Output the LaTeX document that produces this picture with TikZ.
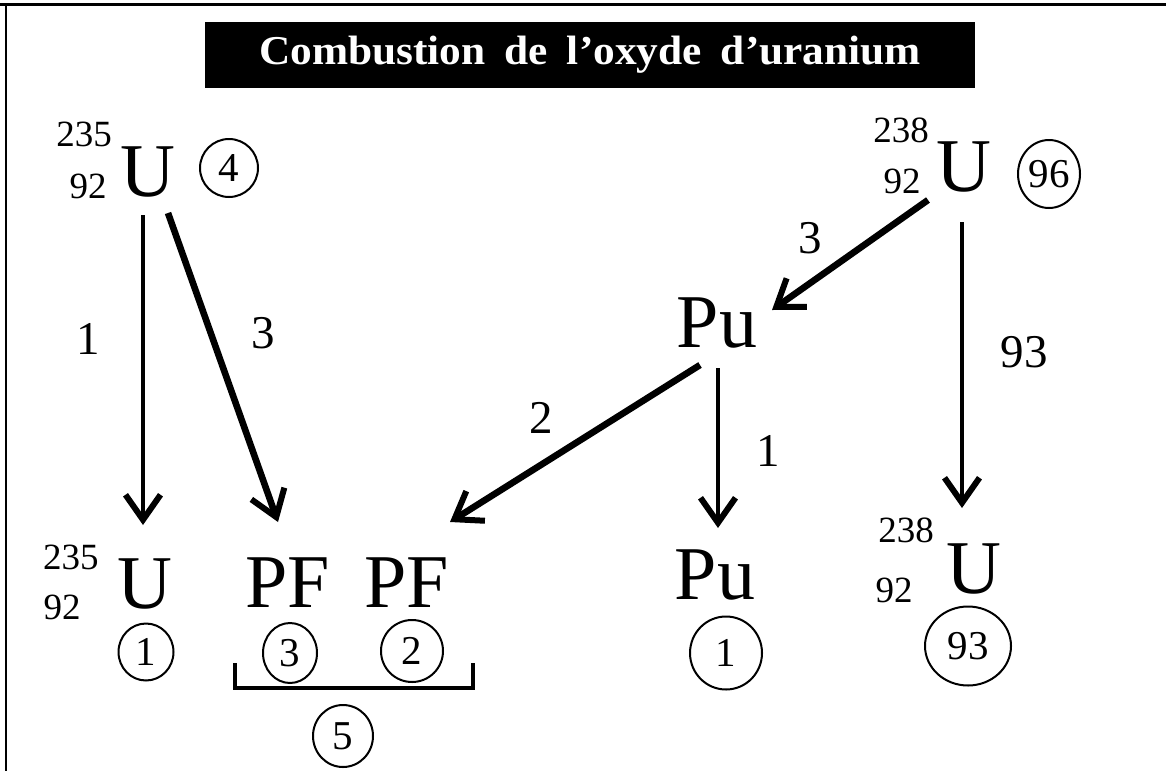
\documentclass[tikz,border=0pt]{standalone}
\usepackage{fontspec}
\setmainfont{Liberation Serif}
\usepackage{graphicx}
\usetikzlibrary{positioning,arrows.meta,shapes.geometric}

\tikzset{
  elem/.style={font=\fontsize{38}{40}\selectfont, inner sep=0pt},
  nucl/.style={font=\fontsize{18.5}{20}\selectfont, inner sep=0pt},
  qty/.style={font=\fontsize{23.5}{25}\selectfont, inner sep=0pt},
  tally/.style={draw, ellipse, line width=1pt, inner sep=0pt, font=\fontsize{20.5}{22}\selectfont},
  flow/.style={-{Straight Barb[length=12.5pt,width=17.5pt,line width=3pt]}, line width=3.3pt},
  thinflow/.style={flow, line width=2.3pt},
}

\begin{document}
\begin{tikzpicture}[x=0.5pt, y=-0.5pt]
    \useasboundingbox (0,0) rectangle (1166,771);

    % Frame
    \draw[line width=1.5pt] (0,4) -- (1166,4);
    \draw[line width=1pt] (6,4) -- (6,771);

    % Title
    \node[fill=black, text=white, minimum width=385pt, minimum height=33pt, inner sep=0pt,
          font=\bfseries\fontsize{20.5}{22}\selectfont] (title) at (590,55)
          {\resizebox{331pt}{\height}{\spaceskip=9pt Combustion de l'oxyde d'uranium}};

    % Uranium 235 (start)
    \node[elem] (Ua) at (148,172) {U};
    \node[nucl] (UaA) at (84,134) {235};
    \node[nucl] (UaZ) at (88,186) {92};
    \node[tally, minimum width=29pt, minimum height=29pt] (na) at (229,168) {4};

    % Uranium 238 (start)
    \node[elem] (Uc) at (964,167) {U};
    \node[nucl] (UcA) at (901,130) {238};
    \node[nucl] (UcZ) at (902,181) {92};
    \node[tally, minimum width=31pt, minimum height=34pt] (nc) at (1049,174) {96};

    % Plutonium formed
    \node[elem] (Pu) at (717,323) {Pu};

    % End products
    \node[elem] (Ub) at (145,584) {U};
    \node[nucl] (UbA) at (71,557) {235};
    \node[nucl] (UbZ) at (62,607) {92};
    \node[tally, minimum width=27.5pt, minimum height=28.5pt] (nb) at (146,652) {1};

    \node[elem] (PFa) at (288,583) {PF};
    \node[elem] (PFb) at (407,583) {PF};
    \node[tally, minimum width=27pt, minimum height=30pt] (npa) at (290,653) {3};
    \node[tally, minimum width=31pt, minimum height=31pt] (npb) at (412,651) {2};
    \draw[line width=2pt] (235,663) |- (473,688) -- (473,663);
    \node[tally, minimum width=30pt, minimum height=31pt] (npf) at (343,736) {5};

    \node[elem] (Pub) at (715,575) {Pu};
    \node[tally, minimum width=36pt, minimum height=36.5pt] (nu) at (726,653) {1};

    \node[elem] (Ud) at (974,569) {U};
    \node[nucl] (UdA) at (906,530) {238};
    \node[nucl] (UdZ) at (894,590) {92};
    \node[tally, minimum width=43pt, minimum height=39.5pt] (nd) at (968,646) {93};

    % Transfers
    \draw[thinflow] ([shift={(-5,43)}]Ua.center) -- ([shift={(-2,-59)}]Ub.center);
    \draw[flow] ([shift={(20,41)}]Ua.center) -- ([shift={(-10,-61)}]PFa.center);
    \draw[flow] ([shift={(-36,33)}]Uc.center) -- ([shift={(55,-13)}]Pu.center);
    \draw[thinflow] ([shift={(-2,55)}]Uc.center) -- ([shift={(-12,-61)}]Ud.center);
    \draw[flow] ([shift={(-17,42)}]Pu.center) -- ([shift={(43,-61)}]PFb.center);
    \draw[thinflow] ([shift={(1,45)}]Pu.center) -- ([shift={(3,-47)}]Pub.center);

    % Quantities
    \node[qty] (qa) at (88,339) {1};
    \node[qty] (qb) at (263,333) {3};
    \node[qty] (qc) at (810,238) {3};
    \node[qty] (qd) at (1024,352) {93};
    \node[qty] (qe) at (541,418) {2};
    \node[qty] (qf) at (768,451) {1};
\end{tikzpicture}
\end{document}
